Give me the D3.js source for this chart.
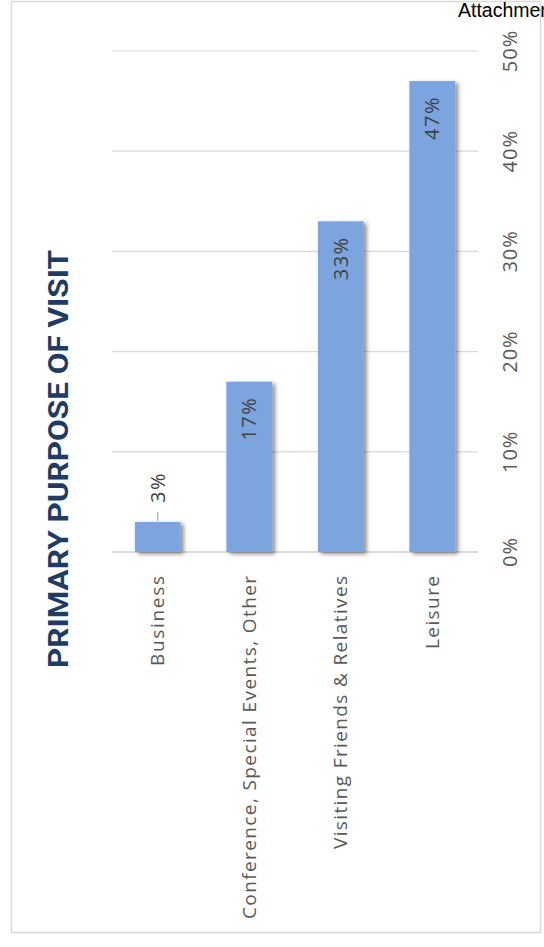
<!DOCTYPE html>
<html>
<head>
<meta charset="utf-8">
<script src="https://cdn.jsdelivr.net/npm/d3@7"></script>
<style>
  html, body { margin: 0; padding: 0; background: #fff; }
  svg { display: block; }
</style>
</head>
<body>
<svg id="chart" width="544" height="947"></svg>
<script>
// Primary purpose of visit, share of visitors
const categories = ["Business", "Conference, Special Events, Other", "Visiting Friends & Relatives", "Leisure"];
const shares = [0.03, 0.17, 0.33, 0.47];
const tickValues = [0, 0.1, 0.2, 0.3, 0.4, 0.5];
const labelLengths = [90, 343, 273, 73];

const svg = d3.select("#chart");
const fmt = d3.format(".0%");

// drop shadow for bars
const defs = svg.append("defs");
const f = defs.append("filter").attr("id", "shadow")
  .attr("x", "-20%").attr("y", "-20%").attr("width", "150%").attr("height", "150%");
f.append("feDropShadow").attr("dx", 3).attr("dy", 2).attr("stdDeviation", 2.2)
  .attr("flood-color", "#000").attr("flood-opacity", 0.45);

// outer frame
svg.append("rect").attr("x", 11.5).attr("y", 1.5).attr("width", 529).attr("height", 931)
  .attr("fill", "none").attr("stroke", "#d9d9d9").attr("stroke-width", 1.5);

const x = d3.scaleBand().domain(categories).range([112, 478]).paddingInner(0.5).paddingOuter(0.25);
const y = d3.scaleLinear().domain([0, 0.5]).range([552, 51]);

// gridlines
svg.append("g").selectAll("line").data(tickValues).join("line")
  .attr("x1", 112).attr("x2", 478)
  .attr("y1", d => y(d)).attr("y2", d => y(d))
  .attr("stroke", d => d === 0 ? "#d0d0d0" : "#d9d9d9")
  .attr("stroke-width", d => d === 0 ? 1.5 : 1.2);

// value axis labels, rotated
svg.append("g").selectAll("text").data(tickValues).join("text")
  .attr("transform", d => `translate(517,${y(d)}) rotate(-90)`)
  .attr("text-anchor", "middle")
  .attr("font-family", "'Open Sans', sans-serif")
  .attr("font-size", 20)
  .attr("letter-spacing", 1)
  .attr("fill", "#595959")
  .text(d => fmt(d));

// bars
svg.append("g").selectAll("rect").data(shares).join("rect")
  .attr("x", (d, i) => x(categories[i]))
  .attr("width", x.bandwidth())
  .attr("y", d => y(d))
  .attr("height", d => y(0) - y(d))
  .attr("fill", "#7ba5e0")
  .attr("filter", "url(#shadow)");

// value labels: inside tall bars, above the short one with a leader line
const labels = svg.append("g");
shares.forEach((v, i) => {
  const cx = x(categories[i]) + x.bandwidth() / 2;
  const inside = v > 0.1;
  if (!inside) {
    labels.append("line")
      .attr("x1", cx).attr("x2", cx)
      .attr("y1", y(v) - 1).attr("y2", y(v) - 10)
      .attr("stroke", "#a6a6a6").attr("stroke-width", 1.2);
  }
  labels.append("text")
    .attr("transform", `translate(${cx + 7},${inside ? y(v) + 15 : y(v) - 19}) rotate(-90)`)
    .attr("text-anchor", inside ? "end" : "start")
    .attr("font-family", "'Open Sans', sans-serif")
    .attr("font-size", 20)
    .attr("letter-spacing", 1.5)
    .attr("fill", "#404040")
    .text(fmt(v));
});

// category labels, rotated below the bars
svg.append("g").selectAll("text").data(categories).join("text")
  .attr("transform", d => `translate(${x(d) + x.bandwidth() / 2 + 6.5},576) rotate(-90)`)
  .attr("text-anchor", "end")
  .attr("font-family", "'Open Sans', sans-serif")
  .attr("font-size", 19)
  .attr("fill", "#595959")
  .attr("textLength", (d, i) => labelLengths[i])
  .attr("lengthAdjust", "spacing")
  .text(d => d);

// title
svg.append("text")
  .attr("transform", "translate(68,459) rotate(-90)")
  .attr("text-anchor", "middle")
  .attr("font-family", "Roboto, 'DejaVu Sans', sans-serif")
  .attr("font-weight", "bold")
  .attr("font-size", 27)
  .attr("fill", "#1f3c64")
  .attr("textLength", 418)
  .attr("lengthAdjust", "spacingAndGlyphs")
  .text("PRIMARY PURPOSE OF VISIT");

// page header fragment
svg.append("text")
  .attr("x", 458).attr("y", 17)
  .attr("font-family", "'Liberation Sans', Arial, sans-serif")
  .attr("font-size", 19.5)
  .attr("fill", "#000")
  .text("Attachment");
</script>
</body>
</html>
